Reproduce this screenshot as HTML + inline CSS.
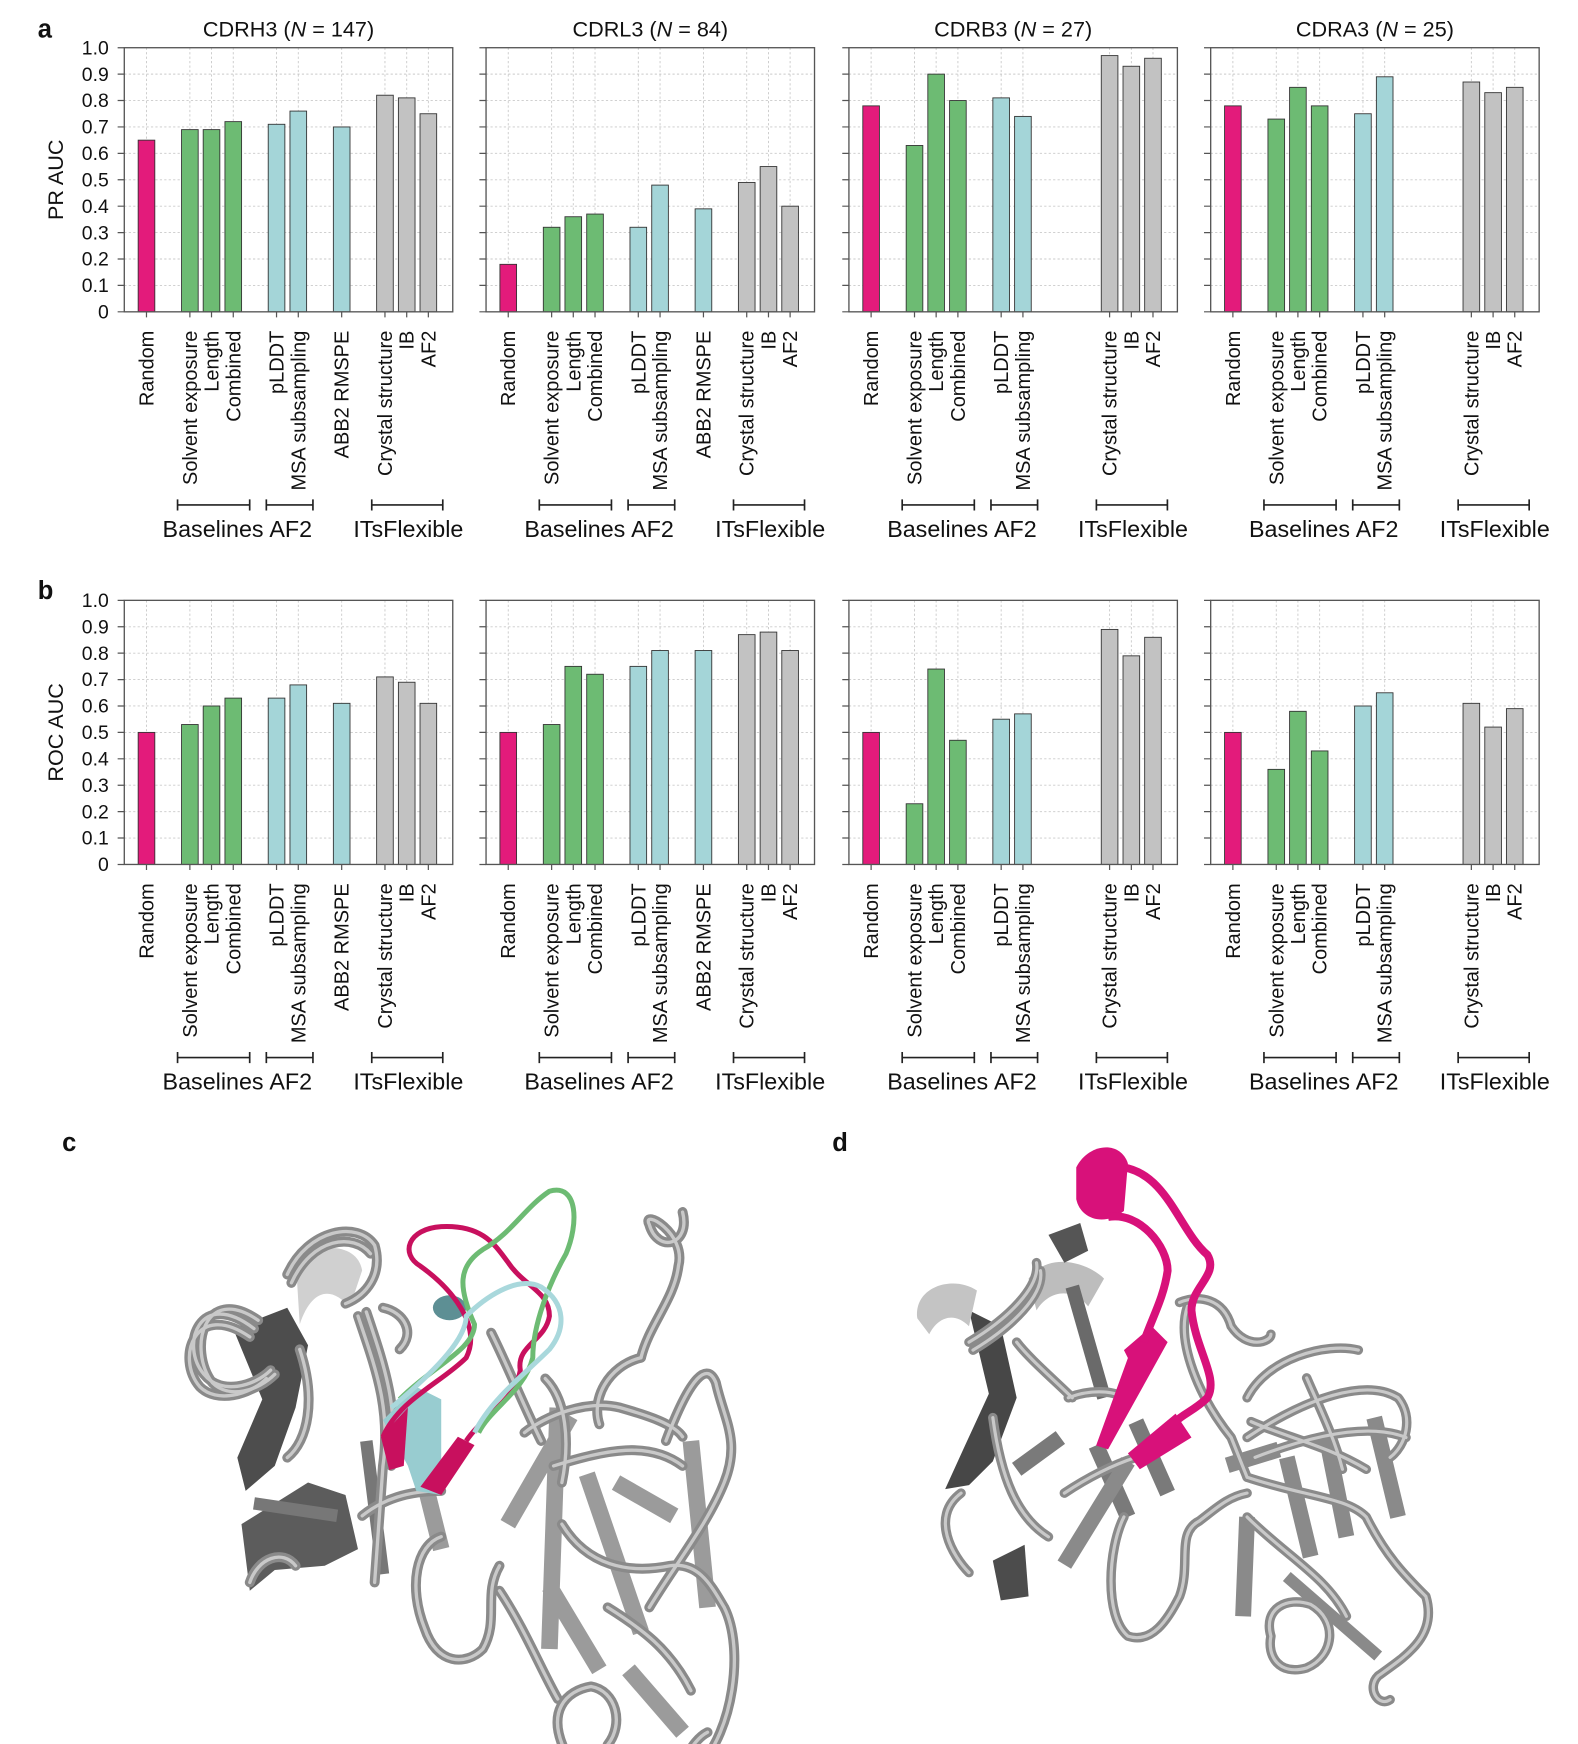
<!DOCTYPE html>
<html><head><meta charset="utf-8">
<style>
html,body{margin:0;padding:0;background:#fff;}
svg{display:block;}
text{font-family:"Liberation Sans",sans-serif;fill:#111;}
.tl{font-size:18px;}
.yt{font-size:17.5px;}
.ti{font-size:19.5px;}
.gl{font-size:21px;}
.lt{font-size:23px;font-weight:bold;}
.grid{stroke:#c9c9c9;stroke-width:0.8;stroke-dasharray:2,2;fill:none;}
.fr{fill:none;stroke:#555;stroke-width:1.2;}
.tk{stroke:#555;stroke-width:1.1;}
.br{stroke:#222;stroke-width:1.5;fill:none;}
.P{fill:#e31b7b;stroke:#333;stroke-width:0.8;}
.G{fill:#6dbb73;stroke:#333;stroke-width:0.8;}
.T{fill:#a4d5d8;stroke:#333;stroke-width:0.8;}
.Y{fill:#c2c2c2;stroke:#333;stroke-width:0.8;}
.tube{fill:none;stroke:#8a8a8a;stroke-width:24;stroke-linecap:round;stroke-linejoin:round;}
.tubi{fill:none;stroke:#c9c9c9;stroke-width:8;stroke-linecap:round;stroke-linejoin:round;}
.tube path,.tubi path{fill:none;}
.sh{fill:none;stroke-linecap:butt;}
</style></head>
<body>
<svg width="1578" height="1744" viewBox="0 0 1422 1571.6" xmlns="http://www.w3.org/2000/svg">
<defs>
<g id="gridA">
<path class="grid" d="M0,66.8H296M0,90.6H296M0,114.4H296M0,138.2H296M0,162H296M0,185.8H296M0,209.6H296M0,233.4H296M0,257.2H296"/>
</g>
<g id="ytkA"><path class="tk" d="M-6,43H0M-6,66.8H0M-6,90.6H0M-6,114.4H0M-6,138.2H0M-6,162H0M-6,185.8H0M-6,209.6H0M-6,233.4H0M-6,257.2H0M-6,281H0"/></g>
<g id="vg10"><path class="grid" d="M20,43V281M59.1,43V281M78.6,43V281M98.2,43V281M137.2,43V281M156.8,43V281M195.9,43V281M234.9,43V281M254.5,43V281M274,43V281"/>
<path class="tk" d="M20,281v5M59.1,281v5M78.6,281v5M98.2,281v5M137.2,281v5M156.8,281v5M195.9,281v5M234.9,281v5M254.5,281v5M274,281v5"/></g>
<g id="vg9"><path class="grid" d="M20,43V281M59.1,43V281M78.6,43V281M98.2,43V281M137.2,43V281M156.8,43V281M234.9,43V281M254.5,43V281M274,43V281"/>
<path class="tk" d="M20,281v5M59.1,281v5M78.6,281v5M98.2,281v5M137.2,281v5M156.8,281v5M234.9,281v5M254.5,281v5M274,281v5"/></g>
<g id="brk"><path class="br" d="M48,455H113M48,450V460M113,450V460M128,455H170M128,450V460M170,450V460M223,455H287M223,450V460M287,450V460"/></g>
<g id="ctubes" fill="none">
<path d="M250,430 C120,330 70,470 130,540 C170,590 250,570 290,530"/>
<path d="M260,410 C130,320 90,480 150,560 C190,600 260,580 300,540"/>
<path d="M240,450 C110,360 60,500 120,570 C160,610 240,590 280,550"/>
<path d="M330,300 C380,190 500,170 540,230 C560,300 520,350 470,370"/>
<path d="M340,320 C390,210 490,200 530,250"/>
<path d="M360,480 C400,600 380,700 330,740"/>
<path d="M500,400 C540,520 580,620 560,760 L540,1040"/>
<path d="M520,390 C560,510 600,620 580,760"/>
<path d="M560,380 C610,390 640,440 600,480"/>
<path d="M510,880 C560,840 620,820 700,820"/>
<path d="M700,930 C640,950 620,1050 660,1150 C690,1240 760,1240 800,1200 C840,1130 800,1070 840,1000"/>
<path d="M900,680 C950,640 1050,600 1130,620 C1200,640 1260,660 1280,690"/>
<path d="M970,760 C1100,720 1200,700 1280,760"/>
<path d="M1240,700 C1300,540 1340,510 1360,560 C1380,650 1420,700 1380,800 C1340,900 1260,1000 1200,1100"/>
<path d="M990,900 C1050,1000 1150,1020 1250,1000 C1320,990 1350,1050 1380,1100 C1430,1200 1400,1400 1320,1480 C1260,1500 1300,1420 1340,1400"/>
<path d="M1180,500 C1200,420 1260,360 1270,280 C1290,200 1180,140 1200,180 C1220,250 1300,230 1280,150"/>
<path d="M1180,500 C1100,520 1060,600 1080,660"/>
<path d="M1000,1450 C950,1350 1000,1300 1060,1290 C1120,1300 1140,1380 1100,1430"/>
<path d="M840,1060 C900,1150 940,1250 980,1320"/>
<path d="M950,550 C1000,600 1010,700 990,800"/>
<path d="M820,440 C860,520 900,620 940,700"/>
<path d="M240,1040 C260,980 320,960 350,1000"/>
<path d="M1100,1100 C1180,1150 1250,1200 1300,1300"/>
</g>
<g id="dtubes" fill="none">
<path d="M300,560 C400,500 480,420 470,360"/>
<path d="M310,580 C410,520 490,440 480,380"/>
<path d="M280,940 C200,1000 260,1100 300,1140"/>
<path d="M360,750 C380,900 420,1000 500,1050"/>
<path d="M550,700 C600,680 660,680 690,700"/>
<path d="M540,940 C600,900 660,870 720,850"/>
<path d="M850,470 C820,560 880,700 960,800 L1000,900"/>
<path d="M690,1000 C650,1080 640,1250 700,1300 C760,1320 800,1260 830,1200 C860,1120 820,1040 880,1010 C920,980 950,950 1000,940"/>
<path d="M830,460 C880,440 940,450 960,520 C1000,580 1060,560 1060,540"/>
<path d="M1000,700 C1050,600 1200,560 1280,580"/>
<path d="M1000,800 C1150,700 1300,650 1380,700 C1420,750 1400,820 1360,850"/>
<path d="M1000,900 C1150,950 1250,950 1300,1000 C1350,1100 1400,1150 1450,1200 C1480,1300 1400,1350 1330,1400 C1300,1430 1330,1480 1360,1460"/>
<path d="M1060,1300 C1040,1230 1100,1200 1160,1220 C1230,1260 1220,1350 1150,1380 C1080,1400 1050,1350 1060,1300"/>
<path d="M1000,1000 C1100,1100 1200,1150 1250,1250"/>
<path d="M1150,650 C1180,720 1220,800 1240,880"/>
<path d="M1010,760 C1100,800 1200,820 1300,880"/>
<path d="M420,560 C450,600 520,660 560,700"/>
<path d="M1020,850 C1150,800 1300,760 1400,800"/>
</g>
</defs>

<!-- ================= PANEL a ================= -->
<text class="lt" x="34" y="34">a</text>
<text x="50" y="162" transform="rotate(-90 50 162)" text-anchor="middle" dominant-baseline="central" style="font-size:19.5px">PR AUC</text>
<g class="yt" text-anchor="end">
<text x="98" y="49">1.0</text><text x="98" y="72.8">0.9</text><text x="98" y="96.6">0.8</text><text x="98" y="120.4">0.7</text><text x="98" y="144.2">0.6</text><text x="98" y="168">0.5</text><text x="98" y="191.8">0.4</text><text x="98" y="215.6">0.3</text><text x="98" y="239.4">0.2</text><text x="98" y="263.2">0.1</text><text x="98" y="287">0</text>
</g>

<g transform="translate(112,0)">
<text class="ti" x="148" y="33" text-anchor="middle">CDRH3 (<tspan font-style="italic">N</tspan> = 147)</text>
<use href="#gridA"/><use href="#vg10"/><use href="#ytkA"/>
<rect class="P" x="12.5" y="126.3" width="15" height="154.7"/>
<rect class="G" x="51.6" y="116.8" width="15" height="164.2"/>
<rect class="G" x="71.1" y="116.8" width="15" height="164.2"/>
<rect class="G" x="90.7" y="109.6" width="15" height="171.4"/>
<rect class="T" x="129.7" y="112" width="15" height="169"/>
<rect class="T" x="149.3" y="100.1" width="15" height="180.9"/>
<rect class="T" x="188.4" y="114.4" width="15" height="166.6"/>
<rect class="Y" x="227.4" y="85.8" width="15" height="195.2"/>
<rect class="Y" x="247" y="88.2" width="15" height="192.8"/>
<rect class="Y" x="266.5" y="102.5" width="15" height="178.5"/>
<rect class="fr" x="0" y="43" width="296" height="238"/>
<g class="tl" text-anchor="end">
<text transform="translate(20,298) rotate(-90)" dy="0.35em">Random</text>
<text transform="translate(59.1,298) rotate(-90)" dy="0.35em">Solvent exposure</text>
<text transform="translate(78.6,298) rotate(-90)" dy="0.35em">Length</text>
<text transform="translate(98.2,298) rotate(-90)" dy="0.35em">Combined</text>
<text transform="translate(137.2,298) rotate(-90)" dy="0.35em">pLDDT</text>
<text transform="translate(156.8,298) rotate(-90)" dy="0.35em">MSA subsampling</text>
<text transform="translate(195.9,298) rotate(-90)" dy="0.35em">ABB2 RMSPE</text>
<text transform="translate(234.9,298) rotate(-90)" dy="0.35em">Crystal structure</text>
<text transform="translate(254.5,298) rotate(-90)" dy="0.35em">IB</text>
<text transform="translate(274,298) rotate(-90)" dy="0.35em">AF2</text>
</g>
<use href="#brk"/>
<g class="gl" text-anchor="middle"><text x="80" y="484">Baselines</text><text x="150" y="484">AF2</text><text x="256" y="484">ITsFlexible</text></g>
</g>

<g transform="translate(438,0)">
<text class="ti" x="148" y="33" text-anchor="middle">CDRL3 (<tspan font-style="italic">N</tspan> = 84)</text>
<use href="#gridA"/><use href="#vg10"/><use href="#ytkA"/>
<rect class="P" x="12.5" y="238.2" width="15" height="42.8"/>
<rect class="G" x="51.6" y="204.8" width="15" height="76.2"/>
<rect class="G" x="71.1" y="195.3" width="15" height="85.7"/>
<rect class="G" x="90.7" y="192.9" width="15" height="88.1"/>
<rect class="T" x="129.7" y="204.8" width="15" height="76.2"/>
<rect class="T" x="149.3" y="166.8" width="15" height="114.2"/>
<rect class="T" x="188.4" y="188.2" width="15" height="92.8"/>
<rect class="Y" x="227.4" y="164.4" width="15" height="116.6"/>
<rect class="Y" x="247" y="150.1" width="15" height="130.9"/>
<rect class="Y" x="266.5" y="185.8" width="15" height="95.2"/>
<rect class="fr" x="0" y="43" width="296" height="238"/>
<g class="tl" text-anchor="end">
<text transform="translate(20,298) rotate(-90)" dy="0.35em">Random</text>
<text transform="translate(59.1,298) rotate(-90)" dy="0.35em">Solvent exposure</text>
<text transform="translate(78.6,298) rotate(-90)" dy="0.35em">Length</text>
<text transform="translate(98.2,298) rotate(-90)" dy="0.35em">Combined</text>
<text transform="translate(137.2,298) rotate(-90)" dy="0.35em">pLDDT</text>
<text transform="translate(156.8,298) rotate(-90)" dy="0.35em">MSA subsampling</text>
<text transform="translate(195.9,298) rotate(-90)" dy="0.35em">ABB2 RMSPE</text>
<text transform="translate(234.9,298) rotate(-90)" dy="0.35em">Crystal structure</text>
<text transform="translate(254.5,298) rotate(-90)" dy="0.35em">IB</text>
<text transform="translate(274,298) rotate(-90)" dy="0.35em">AF2</text>
</g>
<use href="#brk"/>
<g class="gl" text-anchor="middle"><text x="80" y="484">Baselines</text><text x="150" y="484">AF2</text><text x="256" y="484">ITsFlexible</text></g>
</g>

<g transform="translate(765,0)">
<text class="ti" x="148" y="33" text-anchor="middle">CDRB3 (<tspan font-style="italic">N</tspan> = 27)</text>
<use href="#gridA"/><use href="#vg9"/><use href="#ytkA"/>
<rect class="P" x="12.5" y="95.4" width="15" height="185.6"/>
<rect class="G" x="51.6" y="131.1" width="15" height="149.9"/>
<rect class="G" x="71.1" y="66.8" width="15" height="214.2"/>
<rect class="G" x="90.7" y="90.6" width="15" height="190.4"/>
<rect class="T" x="129.7" y="88.2" width="15" height="192.8"/>
<rect class="T" x="149.3" y="104.9" width="15" height="176.1"/>
<rect class="Y" x="227.4" y="50.1" width="15" height="230.9"/>
<rect class="Y" x="247" y="59.7" width="15" height="221.3"/>
<rect class="Y" x="266.5" y="52.5" width="15" height="228.5"/>
<rect class="fr" x="0" y="43" width="296" height="238"/>
<g class="tl" text-anchor="end">
<text transform="translate(20,298) rotate(-90)" dy="0.35em">Random</text>
<text transform="translate(59.1,298) rotate(-90)" dy="0.35em">Solvent exposure</text>
<text transform="translate(78.6,298) rotate(-90)" dy="0.35em">Length</text>
<text transform="translate(98.2,298) rotate(-90)" dy="0.35em">Combined</text>
<text transform="translate(137.2,298) rotate(-90)" dy="0.35em">pLDDT</text>
<text transform="translate(156.8,298) rotate(-90)" dy="0.35em">MSA subsampling</text>
<text transform="translate(234.9,298) rotate(-90)" dy="0.35em">Crystal structure</text>
<text transform="translate(254.5,298) rotate(-90)" dy="0.35em">IB</text>
<text transform="translate(274,298) rotate(-90)" dy="0.35em">AF2</text>
</g>
<use href="#brk"/>
<g class="gl" text-anchor="middle"><text x="80" y="484">Baselines</text><text x="150" y="484">AF2</text><text x="256" y="484">ITsFlexible</text></g>
</g>

<g transform="translate(1091,0)">
<text class="ti" x="148" y="33" text-anchor="middle">CDRA3 (<tspan font-style="italic">N</tspan> = 25)</text>
<use href="#gridA"/><use href="#vg9"/><use href="#ytkA"/>
<rect class="P" x="12.5" y="95.4" width="15" height="185.6"/>
<rect class="G" x="51.6" y="107.3" width="15" height="173.7"/>
<rect class="G" x="71.1" y="78.7" width="15" height="202.3"/>
<rect class="G" x="90.7" y="95.4" width="15" height="185.6"/>
<rect class="T" x="129.7" y="102.5" width="15" height="178.5"/>
<rect class="T" x="149.3" y="69.2" width="15" height="211.8"/>
<rect class="Y" x="227.4" y="73.9" width="15" height="207.1"/>
<rect class="Y" x="247" y="83.5" width="15" height="197.5"/>
<rect class="Y" x="266.5" y="78.7" width="15" height="202.3"/>
<rect class="fr" x="0" y="43" width="296" height="238"/>
<g class="tl" text-anchor="end">
<text transform="translate(20,298) rotate(-90)" dy="0.35em">Random</text>
<text transform="translate(59.1,298) rotate(-90)" dy="0.35em">Solvent exposure</text>
<text transform="translate(78.6,298) rotate(-90)" dy="0.35em">Length</text>
<text transform="translate(98.2,298) rotate(-90)" dy="0.35em">Combined</text>
<text transform="translate(137.2,298) rotate(-90)" dy="0.35em">pLDDT</text>
<text transform="translate(156.8,298) rotate(-90)" dy="0.35em">MSA subsampling</text>
<text transform="translate(234.9,298) rotate(-90)" dy="0.35em">Crystal structure</text>
<text transform="translate(254.5,298) rotate(-90)" dy="0.35em">IB</text>
<text transform="translate(274,298) rotate(-90)" dy="0.35em">AF2</text>
</g>
<use href="#brk"/>
<g class="gl" text-anchor="middle"><text x="80" y="484">Baselines</text><text x="150" y="484">AF2</text><text x="256" y="484">ITsFlexible</text></g>
</g>

<!-- ================= PANEL b ================= -->
<text class="lt" x="34" y="540">b</text>
<text x="50" y="660" transform="rotate(-90 50 660)" text-anchor="middle" dominant-baseline="central" style="font-size:19.5px">ROC AUC</text>
<g class="yt" text-anchor="end">
<text x="98" y="547">1.0</text><text x="98" y="570.8">0.9</text><text x="98" y="594.6">0.8</text><text x="98" y="618.4">0.7</text><text x="98" y="642.2">0.6</text><text x="98" y="666">0.5</text><text x="98" y="689.8">0.4</text><text x="98" y="713.6">0.3</text><text x="98" y="737.4">0.2</text><text x="98" y="761.2">0.1</text><text x="98" y="785">0</text>
</g>

<g transform="translate(112,498)">
<use href="#gridA"/><use href="#vg10"/><use href="#ytkA"/>
<g transform="translate(0,-498)">
<rect class="P" x="12.5" y="660" width="15" height="119"/>
<rect class="G" x="51.6" y="652.9" width="15" height="126.1"/>
<rect class="G" x="71.1" y="636.2" width="15" height="142.8"/>
<rect class="G" x="90.7" y="629.1" width="15" height="149.9"/>
<rect class="T" x="129.7" y="629.1" width="15" height="149.9"/>
<rect class="T" x="149.3" y="617.2" width="15" height="161.8"/>
<rect class="T" x="188.4" y="633.8" width="15" height="145.2"/>
<rect class="Y" x="227.4" y="610" width="15" height="169"/>
<rect class="Y" x="247" y="614.8" width="15" height="164.2"/>
<rect class="Y" x="266.5" y="633.8" width="15" height="145.2"/>
</g>
<rect class="fr" x="0" y="43" width="296" height="238"/>
<g class="tl" text-anchor="end">
<text transform="translate(20,298) rotate(-90)" dy="0.35em">Random</text>
<text transform="translate(59.1,298) rotate(-90)" dy="0.35em">Solvent exposure</text>
<text transform="translate(78.6,298) rotate(-90)" dy="0.35em">Length</text>
<text transform="translate(98.2,298) rotate(-90)" dy="0.35em">Combined</text>
<text transform="translate(137.2,298) rotate(-90)" dy="0.35em">pLDDT</text>
<text transform="translate(156.8,298) rotate(-90)" dy="0.35em">MSA subsampling</text>
<text transform="translate(195.9,298) rotate(-90)" dy="0.35em">ABB2 RMSPE</text>
<text transform="translate(234.9,298) rotate(-90)" dy="0.35em">Crystal structure</text>
<text transform="translate(254.5,298) rotate(-90)" dy="0.35em">IB</text>
<text transform="translate(274,298) rotate(-90)" dy="0.35em">AF2</text>
</g>
<use href="#brk"/>
<g class="gl" text-anchor="middle"><text x="80" y="484">Baselines</text><text x="150" y="484">AF2</text><text x="256" y="484">ITsFlexible</text></g>
</g>

<g transform="translate(438,498)">
<use href="#gridA"/><use href="#vg10"/><use href="#ytkA"/>
<g transform="translate(0,-498)">
<rect class="P" x="12.5" y="660" width="15" height="119"/>
<rect class="G" x="51.6" y="652.9" width="15" height="126.1"/>
<rect class="G" x="71.1" y="600.5" width="15" height="178.5"/>
<rect class="G" x="90.7" y="607.6" width="15" height="171.4"/>
<rect class="T" x="129.7" y="600.5" width="15" height="178.5"/>
<rect class="T" x="149.3" y="586.2" width="15" height="192.8"/>
<rect class="T" x="188.4" y="586.2" width="15" height="192.8"/>
<rect class="Y" x="227.4" y="571.9" width="15" height="207.1"/>
<rect class="Y" x="247" y="569.6" width="15" height="209.4"/>
<rect class="Y" x="266.5" y="586.2" width="15" height="192.8"/>
</g>
<rect class="fr" x="0" y="43" width="296" height="238"/>
<g class="tl" text-anchor="end">
<text transform="translate(20,298) rotate(-90)" dy="0.35em">Random</text>
<text transform="translate(59.1,298) rotate(-90)" dy="0.35em">Solvent exposure</text>
<text transform="translate(78.6,298) rotate(-90)" dy="0.35em">Length</text>
<text transform="translate(98.2,298) rotate(-90)" dy="0.35em">Combined</text>
<text transform="translate(137.2,298) rotate(-90)" dy="0.35em">pLDDT</text>
<text transform="translate(156.8,298) rotate(-90)" dy="0.35em">MSA subsampling</text>
<text transform="translate(195.9,298) rotate(-90)" dy="0.35em">ABB2 RMSPE</text>
<text transform="translate(234.9,298) rotate(-90)" dy="0.35em">Crystal structure</text>
<text transform="translate(254.5,298) rotate(-90)" dy="0.35em">IB</text>
<text transform="translate(274,298) rotate(-90)" dy="0.35em">AF2</text>
</g>
<use href="#brk"/>
<g class="gl" text-anchor="middle"><text x="80" y="484">Baselines</text><text x="150" y="484">AF2</text><text x="256" y="484">ITsFlexible</text></g>
</g>

<g transform="translate(765,498)">
<use href="#gridA"/><use href="#vg9"/><use href="#ytkA"/>
<g transform="translate(0,-498)">
<rect class="P" x="12.5" y="660" width="15" height="119"/>
<rect class="G" x="51.6" y="724.3" width="15" height="54.7"/>
<rect class="G" x="71.1" y="602.9" width="15" height="176.1"/>
<rect class="G" x="90.7" y="667.1" width="15" height="111.9"/>
<rect class="T" x="129.7" y="648.1" width="15" height="130.9"/>
<rect class="T" x="149.3" y="643.3" width="15" height="135.7"/>
<rect class="Y" x="227.4" y="567.2" width="15" height="211.8"/>
<rect class="Y" x="247" y="591" width="15" height="188"/>
<rect class="Y" x="266.5" y="574.3" width="15" height="204.7"/>
</g>
<rect class="fr" x="0" y="43" width="296" height="238"/>
<g class="tl" text-anchor="end">
<text transform="translate(20,298) rotate(-90)" dy="0.35em">Random</text>
<text transform="translate(59.1,298) rotate(-90)" dy="0.35em">Solvent exposure</text>
<text transform="translate(78.6,298) rotate(-90)" dy="0.35em">Length</text>
<text transform="translate(98.2,298) rotate(-90)" dy="0.35em">Combined</text>
<text transform="translate(137.2,298) rotate(-90)" dy="0.35em">pLDDT</text>
<text transform="translate(156.8,298) rotate(-90)" dy="0.35em">MSA subsampling</text>
<text transform="translate(234.9,298) rotate(-90)" dy="0.35em">Crystal structure</text>
<text transform="translate(254.5,298) rotate(-90)" dy="0.35em">IB</text>
<text transform="translate(274,298) rotate(-90)" dy="0.35em">AF2</text>
</g>
<use href="#brk"/>
<g class="gl" text-anchor="middle"><text x="80" y="484">Baselines</text><text x="150" y="484">AF2</text><text x="256" y="484">ITsFlexible</text></g>
</g>

<g transform="translate(1091,498)">
<use href="#gridA"/><use href="#vg9"/><use href="#ytkA"/>
<g transform="translate(0,-498)">
<rect class="P" x="12.5" y="660" width="15" height="119"/>
<rect class="G" x="51.6" y="693.3" width="15" height="85.7"/>
<rect class="G" x="71.1" y="641" width="15" height="138"/>
<rect class="G" x="90.7" y="676.7" width="15" height="102.3"/>
<rect class="T" x="129.7" y="636.2" width="15" height="142.8"/>
<rect class="T" x="149.3" y="624.3" width="15" height="154.7"/>
<rect class="Y" x="227.4" y="633.8" width="15" height="145.2"/>
<rect class="Y" x="247" y="655.2" width="15" height="123.8"/>
<rect class="Y" x="266.5" y="638.6" width="15" height="140.4"/>
</g>
<rect class="fr" x="0" y="43" width="296" height="238"/>
<g class="tl" text-anchor="end">
<text transform="translate(20,298) rotate(-90)" dy="0.35em">Random</text>
<text transform="translate(59.1,298) rotate(-90)" dy="0.35em">Solvent exposure</text>
<text transform="translate(78.6,298) rotate(-90)" dy="0.35em">Length</text>
<text transform="translate(98.2,298) rotate(-90)" dy="0.35em">Combined</text>
<text transform="translate(137.2,298) rotate(-90)" dy="0.35em">pLDDT</text>
<text transform="translate(156.8,298) rotate(-90)" dy="0.35em">MSA subsampling</text>
<text transform="translate(234.9,298) rotate(-90)" dy="0.35em">Crystal structure</text>
<text transform="translate(254.5,298) rotate(-90)" dy="0.35em">IB</text>
<text transform="translate(274,298) rotate(-90)" dy="0.35em">AF2</text>
</g>
<use href="#brk"/>
<g class="gl" text-anchor="middle"><text x="80" y="484">Baselines</text><text x="150" y="484">AF2</text><text x="256" y="484">ITsFlexible</text></g>
</g>

<!-- ================= PANEL c ================= -->
<text class="lt" x="56" y="1037">c</text>
<g transform="translate(135.1,1036) scale(0.375)">
<path d="M200,430 L330,380 L380,470 L350,620 L300,760 L230,820 L210,740 L270,600 Z" fill="#4d4d4d"/>
<path d="M220,900 L380,800 L470,830 L500,960 L420,1000 L300,1010 L240,1060 Z" fill="#5c5c5c"/>
<path d="M350,260 C420,220 500,230 510,290 L480,380 C440,330 390,330 360,420 Z" fill="#d0d0d0"/>
<path class="sh" stroke="#9b9b9b" stroke-width="40" d="M620,640 L700,960 M860,900 L1010,640 M980,620 L960,1200 M1120,800 L1260,880 M1300,700 L1340,1100 M960,1050 L1080,1250 M1050,780 L1180,1160 M1150,1250 L1280,1400"/>
<path class="sh" stroke="#777" stroke-width="30" d="M520,700 L560,1020 M250,850 L450,880"/>
<use href="#ctubes" class="tube"/>
<use href="#ctubes" class="tubi"/>
<path d="M560,650 L640,570 L700,600 L700,830 L640,820 L620,760 Z" fill="#98ccd0"/>
<path d="M555,690 L620,620 L610,760 L575,770 Z" fill="#c8105e"/>
<path d="M650,810 L740,690 L780,710 L700,830 Z" fill="#c8105e"/>
<ellipse cx="720" cy="380" rx="40" ry="30" fill="#5d8f94"/>
<path fill="none" stroke="#c8105e" stroke-width="12" d="M560,690 C600,600 700,560 760,500 C800,420 720,330 650,280 C600,250 620,190 700,185 C800,180 830,230 860,270 C900,330 960,340 960,400 C950,460 880,470 890,530 C880,600 800,640 760,700"/>
<path fill="none" stroke="#6dbb73" stroke-width="12" d="M600,600 C680,520 780,480 780,420 C740,330 740,280 800,240 C870,200 900,140 960,100 C1030,80 1030,180 1000,250 C960,320 920,420 920,500 C900,580 820,620 790,680"/>
<path fill="none" stroke="#a9d8dc" stroke-width="12" d="M580,620 C700,520 760,450 760,400 C800,360 880,300 940,330 C1000,370 1000,430 960,480 C900,540 820,600 780,680"/>
</g>

<!-- ================= PANEL d ================= -->
<text class="lt" x="750" y="1037">d</text>
<g transform="translate(765.8,1009) scale(0.358)">
<path d="M300,480 L380,520 L420,700 L360,860 L300,920 L240,930 L290,820 L350,690 Z" fill="#474747"/>
<path d="M170,500 C160,420 260,390 320,430 L300,520 C260,480 220,500 200,540 Z" fill="#c4c4c4"/>
<path d="M450,400 C500,330 600,360 640,400 L600,470 C560,420 500,430 470,480 Z" fill="#bdbdbd"/>
<path d="M500,290 L580,260 L600,330 L540,360 Z" fill="#555"/>
<path d="M360,1110 L440,1070 L450,1200 L380,1210 Z" fill="#4c4c4c"/>
<path class="sh" stroke="#6a6a6a" stroke-width="35" d="M560,420 L640,700"/>
<path class="sh" stroke="#7a7a7a" stroke-width="40" d="M420,880 L530,800 M620,820 L700,1000 M720,760 L800,940"/>
<path class="sh" stroke="#8a8a8a" stroke-width="40" d="M700,860 L540,1120 M950,870 L1080,830 M1000,1000 L990,1250 M1100,850 L1160,1100 M1200,800 L1250,1050 M1320,750 L1380,1000"/>
<path class="sh" stroke="#8a8a8a" stroke-width="30" d="M1100,1150 L1330,1350"/>
<use href="#dtubes" class="tube"/>
<use href="#dtubes" class="tubi"/>
<path d="M570,120 C600,60 680,50 700,110 L690,230 C640,270 580,250 570,200 Z" fill="#d8117a"/>
<path d="M760,520 L800,560 L650,830 L620,820 L700,600 L690,580 Z" fill="#d8117a"/>
<path d="M700,840 L820,740 L860,800 L730,880 Z" fill="#d8117a"/>
<path fill="none" stroke="#d8117a" stroke-width="20" d="M650,245 C730,230 800,320 800,380 C790,450 760,500 740,560"/>
<path fill="none" stroke="#d8117a" stroke-width="20" d="M690,120 C800,140 830,280 900,340 C930,390 860,420 860,480 C870,580 930,650 900,700 C870,730 840,740 820,760"/>
</g>
</svg>
</body></html>
